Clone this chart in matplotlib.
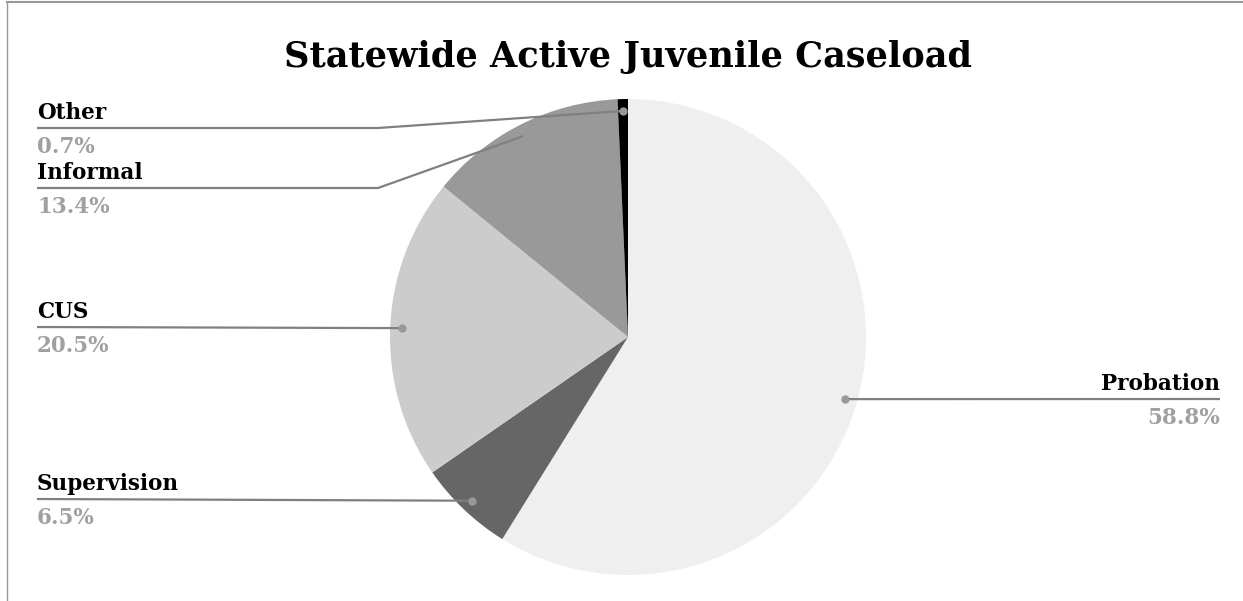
import numpy as np
import matplotlib.pyplot as plt
from matplotlib.lines import Line2D

# data
categories = ["Probation", "Supervision", "CUS", "Informal", "Other"]
shares = [58.8, 6.5, 20.5, 13.4, 0.7]
pct_labels = ["58.8%", "6.5%", "20.5%", "13.4%", "0.7%"]
colors = ["#efefef", "#666666", "#cccccc", "#999999", "#000000"]

W, H = 1243, 601
fig = plt.figure(figsize=(W / 100, H / 100), dpi=100)
ax = fig.add_axes([0, 0, 1, 1])

cx, cy, r = 628, H - 337, 238
ax.pie(shares, colors=colors, startangle=90, counterclock=False,
       center=(cx, cy), radius=r, frame=True,
       wedgeprops=dict(linewidth=0))
ax.set_xlim(0, W)
ax.set_ylim(0, H)
ax.axis("off")

serif = "DejaVu Serif"
ax.text(cx, H - 57, "Statewide Active Juvenile Caseload", ha="center", va="center",
        fontsize=25.3, fontweight="bold", family=serif, color="black")

# leader line layout (pixel y of the line, elbow x)
line_y = {"Probation": 399, "Supervision": 499, "CUS": 327, "Informal": 188, "Other": 128}
elbow = {"Informal": 378, "Other": 378}

cum = np.cumsum([0] + shares[:-1])
total = sum(shares)
for i, cat in enumerate(categories):
    mid = (cum[i] + shares[i] / 2) / total
    ang = np.deg2rad(90 - mid * 360)
    dx = cx + 0.95 * r * np.cos(ang)
    dy = cy + 0.95 * r * np.sin(ang)
    ly = H - line_y[cat]
    if cat == "Probation":
        xs, ys = [dx, 1220], [dy, ly]
        tx, ha = 1220, "right"
    elif cat in elbow:
        xs, ys = [37, elbow[cat], dx], [ly, ly, dy]
        tx, ha = 37, "left"
    else:
        xs, ys = [37, dx], [ly, dy]
        tx, ha = 37, "left"
    ax.plot(xs, ys, color="#808080", lw=1.6, solid_capstyle="butt", zorder=3)
    ax.plot([dx], [dy], "o", ms=6, color="#999999", mec="none", zorder=4)
    ax.text(tx, ly + 4, cat, ha=ha, va="bottom", fontsize=15.5, fontweight="bold",
            family=serif, color="black")
    ax.text(tx, ly - 8, pct_labels[i], ha=ha, va="top", fontsize=15.5, fontweight="bold",
            family=serif, color="#a0a0a0")

# outer frame (top and left edges visible)
fig.add_artist(Line2D([7 / W, 1], [1 - 2 / H, 1 - 2 / H], transform=fig.transFigure,
                      color="#999999", lw=1.5))
fig.add_artist(Line2D([7 / W, 7 / W], [0, 1 - 2 / H], transform=fig.transFigure,
                      color="#999999", lw=1))

fig.savefig("out.png", dpi=100)
